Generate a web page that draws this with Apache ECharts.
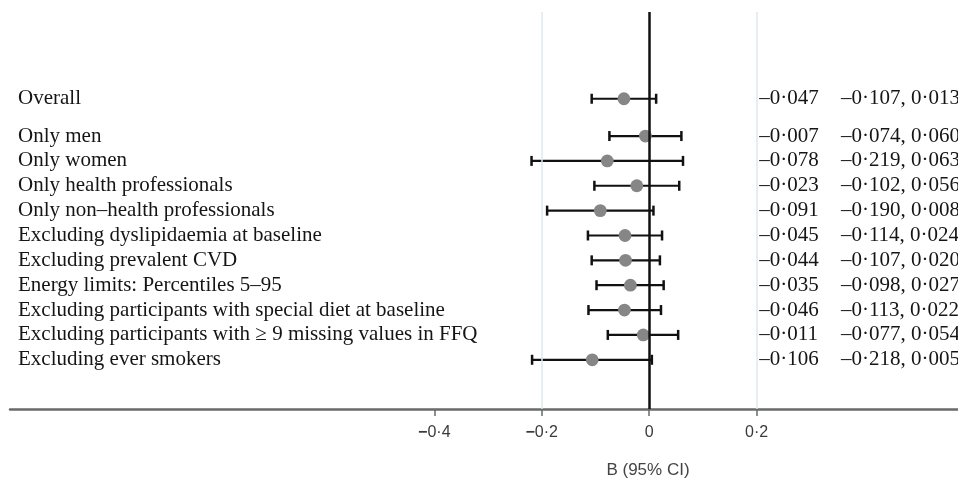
<!DOCTYPE html>
<html>
<head>
<meta charset="utf-8">
<script src="https://cdn.jsdelivr.net/npm/echarts@6/dist/echarts.min.js"></script>
<style>
html,body{margin:0;padding:0;background:#fff;}
#c{width:958px;height:482px;}
</style>
</head>
<body>
<div id="c"></div>
<script>
var labels = [
  'Overall',
  'Only men',
  'Only women',
  'Only health professionals',
  'Only non\u2013health professionals',
  'Excluding dyslipidaemia at baseline',
  'Excluding prevalent CVD',
  'Energy limits: Percentiles 5\u201395',
  'Excluding participants with special diet at baseline',
  'Excluding participants with \u2265 9 missing values in FFQ',
  'Excluding ever smokers'
];
var estimates = [-0.047, -0.007, -0.078, -0.023, -0.091, -0.045, -0.044, -0.035, -0.046, -0.011, -0.106];
var lowerCI   = [-0.107, -0.074, -0.219, -0.102, -0.190, -0.114, -0.107, -0.098, -0.113, -0.077, -0.218];
var upperCI   = [ 0.013,  0.060,  0.063,  0.056,  0.008,  0.024,  0.020,  0.027,  0.022,  0.054,  0.005];
var xTickValues = [-0.4, -0.2, 0, 0.2];
var refLines = [-0.2, 0.2];
var axisTitle = 'B (95% CI)';

function fmt(v, d) {
  var s = Math.abs(v).toFixed(d).replace('.', '\u00b7');
  return (v < 0 ? '\u2013' : '') + s;
}
function rowPos(i) { return i === 0 ? 0 : i + 0.5; }

var data = labels.map(function (l, i) {
  return [estimates[i], rowPos(i), lowerCI[i], upperCI[i], i];
});

var serif = '"Liberation Serif", "Times New Roman", serif';
var textSize = 21;
var sans = '"Liberation Sans", Arial, sans-serif';

var chart = echarts.init(document.getElementById('c'));
chart.setOption({
  animation: false,
  grid: { left: 10, right: 0, top: 12, bottom: 73 },
  xAxis: {
    type: 'value', min: -1.19, max: 0.575,
    splitLine: { show: false },
    axisLine: { show: true, onZero: false, lineStyle: { color: '#6a6a6a', width: 2.5 } },
    axisTick: { show: true, customValues: xTickValues, length: 7, lineStyle: { color: '#6a6a6a', width: 1.5 } },
    axisLabel: {
      customValues: xTickValues, margin: 16,
      fontFamily: sans, fontSize: 16, color: '#3a3a3a',
      formatter: function (v) {
        if (v === 0) return '0';
        var s = Math.abs(v).toFixed(1).replace('.', '\u00b7');
        return v < 0 ? '{m|\u2212}' + s : s;
      },
      rich: { m: { fontFamily: sans, fontSize: 16, fontWeight: 'bold', color: '#3a3a3a' } }
    }
  },
  yAxis: {
    type: 'value', min: -3.49, max: 12.48, inverse: true,
    show: false
  },
  graphic: [{
    type: 'text', x: 648, y: 470,
    style: { text: axisTitle, align: 'center', verticalAlign: 'middle',
      font: '17px ' + sans, fill: '#444' }
  }],
  series: [{
    type: 'custom',
    silent: true,
    data: data,
    markLine: {
      silent: true, symbol: 'none', label: { show: false },
      data: refLines.map(function (v) { return { xAxis: v, lineStyle: { color: '#dde8ef', width: 1.5, type: 'solid' } }; })
        .concat([{ xAxis: 0, lineStyle: { color: '#111', width: 2.5, type: 'solid' } }])
    },
    renderItem: function (params, api) {
      var est = api.value(0), row = api.value(1), lo = api.value(2), hi = api.value(3);
      var idx = api.value(4);
      var pE = api.coord([est, row]);
      var pL = api.coord([lo, row]);
      var pH = api.coord([hi, row]);
      var gx = params.coordSys.x;
      var colE = api.coord([0.205, row])[0];
      var colC = api.coord([0.357, row])[0];
      var y = pE[1];
      var ls = { stroke: '#111', lineWidth: 2.2 };
      var cs = { stroke: '#111', lineWidth: 2.5 };
      var font = textSize + 'px ' + serif;
      return {
        type: 'group',
        children: [
          { type: 'line', shape: { x1: pL[0], y1: y, x2: pH[0], y2: y }, style: ls },
          { type: 'line', shape: { x1: pL[0], y1: y - 5, x2: pL[0], y2: y + 5 }, style: cs },
          { type: 'line', shape: { x1: pH[0], y1: y - 5, x2: pH[0], y2: y + 5 }, style: cs },
          { type: 'circle', shape: { cx: pE[0], cy: y, r: 6.4 }, style: { fill: '#868686' } },
          { type: 'text', x: gx + 8, y: y, style: { text: labels[idx], font: font, fill: '#151515', verticalAlign: 'middle', align: 'left' } },
          { type: 'text', x: colE, y: y, style: { text: fmt(est, 3), font: font, fill: '#151515', verticalAlign: 'middle', align: 'left' } },
          { type: 'text', x: colC, y: y, style: { text: fmt(lo, 3) + ', ' + fmt(hi, 3), font: font, fill: '#151515', verticalAlign: 'middle', align: 'left' } }
        ]
      };
    }
  }]
});
</script>
</body>
</html>
